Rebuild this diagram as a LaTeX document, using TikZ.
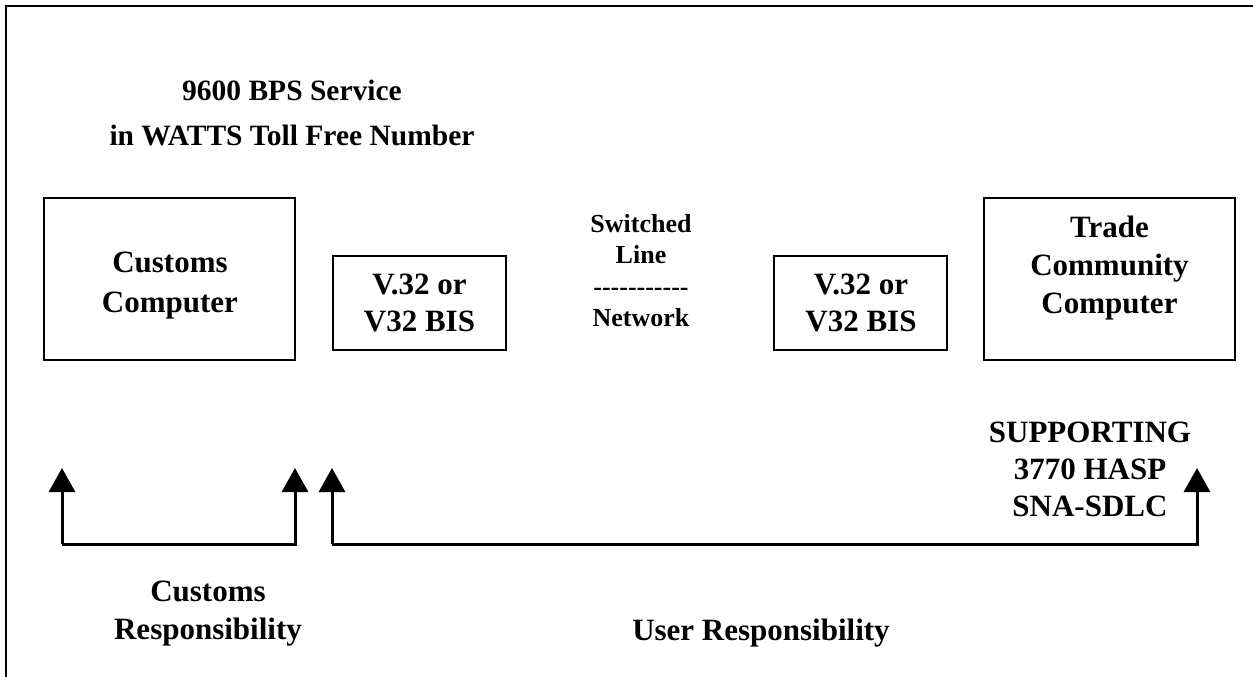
\documentclass[tikz,border=0pt]{standalone}
\usepackage{fontspec}
\setmainfont{Liberation Serif}
\usetikzlibrary{arrows.meta}
\newcommand\hyph{-\kern0pt}
\begin{document}
\begin{tikzpicture}[x=1pt,y=-1pt,
  frame/.style={line width=2pt},
  box/.style={draw,line width=1.8pt,inner sep=0pt},
  lbl/.style={inner sep=0pt,align=center,font=\bfseries\fontsize{31}{38}\selectfont},
  smalllbl/.style={inner sep=0pt,align=center,font=\bfseries\fontsize{26}{31.5}\selectfont},
  brk/.style={line width=3pt,line join=miter,line cap=butt,-{Triangle[width=26pt,length=24pt]}}]
\useasboundingbox (0,0) rectangle (1253,677);
% outer frame
\coordinate (fr1) at (1253,6);
\coordinate (fr2) at (6,6);
\coordinate (fr3) at (6,677);
\draw[frame] (fr1) -- (fr2) -- (fr3);
% title
\node[lbl,font=\bfseries\fontsize{29.5}{45}\selectfont] (title) at (292,112.6) {9600 BPS Service\\in WATTS Toll Free Number};
% boxes
\node[box,minimum width=251pt,minimum height=162pt] (cust) at (169.5,279) {};
\node[box,minimum width=251pt,minimum height=162pt] (trade) at (1109.5,279) {};
\node[box,minimum width=173pt,minimum height=94pt] (vl) at (419.5,303) {};
\node[box,minimum width=173pt,minimum height=94pt] (vr) at (860.5,303) {};
% box texts
\node[lbl,font=\bfseries\fontsize{31}{40}\selectfont] (custtxt) at (170,285.7) {Customs\\Computer};
\node[lbl] (tradetxt) at (1109.5,268) {Trade\\Community\\Computer};
\node[lbl,font=\bfseries\fontsize{31}{37}\selectfont] (vltxt) at (419.5,303) {V.32 or\\V32 BIS};
\node[lbl,font=\bfseries\fontsize{31}{37}\selectfont] (vrtxt) at (861,303) {V.32 or\\V32 BIS};
\node[smalllbl] (sw) at (641,270.5) {Switched\\Line\\\hyph\hyph\hyph\hyph\hyph\hyph\hyph\hyph\hyph\hyph\hyph\\Network};
\node[lbl,font=\bfseries\fontsize{31}{37}\selectfont] (supp) at (1090,469.5) {SUPPORTING\\3770 HASP\\SNA-SDLC};
% brackets
\coordinate (a1) at (62,544);
\coordinate (a2) at (295,544);
\coordinate (t1) at (62,468);
\coordinate (t2) at (295,468);
\coordinate (b1) at (332,544);
\coordinate (b2) at (1197,544);
\coordinate (u1) at (332,468);
\coordinate (u2) at (1197,468);
\draw[brk] (a1) -- (t1);
\draw[brk] (a1) -- (a2) -- (t2);
\draw[brk] (b1) -- (u1);
\draw[brk] (b1) -- (b2) -- (u2);
% responsibility labels
\node[lbl] (custresp) at (208,614) {Customs\\Responsibility};
\node[lbl,anchor=base] (userresp) at (761,640) {User Responsibility};
\end{tikzpicture}
\end{document}
